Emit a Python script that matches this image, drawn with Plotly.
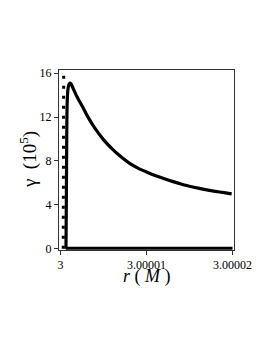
import plotly.graph_objects as go

# Solid curve (gamma in units of 1e5) vs r (M)
r_solid = [3.00000064, 3.00000068, 3.00000072, 3.00000077, 3.00000085, 3.00000095,
           3.00000105, 3.00000116, 3.00000125, 3.0000014, 3.0000016, 3.0000018,
           3.0000020, 3.0000026, 3.0000032, 3.0000040, 3.0000050, 3.0000060,
           3.0000070, 3.0000080, 3.0000090, 3.0000100, 3.0000110, 3.0000120,
           3.0000130, 3.0000140, 3.0000150, 3.0000160, 3.0000170, 3.0000180,
           3.0000190, 3.0000199]
g_solid = [0.0, 4.0, 9.0, 13.0, 14.4, 14.9,
           15.08, 15.1, 15.0, 14.75, 14.4, 14.05,
           13.75, 12.9, 12.0, 11.0, 9.95, 9.1,
           8.4, 7.8, 7.35, 7.0, 6.68, 6.4,
           6.14, 5.9, 5.7, 5.52, 5.36, 5.23,
           5.11, 5.0]

# Near-zero branch
r_zero = [3.00000062, 3.0000200]
g_zero = [0.05, 0.05]

# Dotted near-vertical branch
r_dot = [3.00000032, 3.00000038]
g_dot = [0.0, 16.6]

x_tickvals = [3.0, 3.00001, 3.00002]
x_ticktext = ["3", "3.00001", "3.00002"]
y_tickvals = [0, 4, 8, 12, 16]

fig = go.Figure()
fig.add_trace(go.Scatter(x=r_dot, y=g_dot, mode="lines",
                         line=dict(color="black", width=3, dash="3px,7px"),
                         showlegend=False))
fig.add_trace(go.Scatter(x=r_zero, y=g_zero, mode="lines",
                         line=dict(color="black", width=3),
                         showlegend=False))
fig.add_trace(go.Scatter(x=r_solid, y=g_solid, mode="lines",
                         line=dict(color="black", width=3.2, shape="spline", smoothing=0.8),
                         showlegend=False))

axis_common = dict(showgrid=False, zeroline=False, showline=True, mirror=True,
                   linecolor="#333", linewidth=1, ticks="outside", ticklen=4,
                   tickcolor="#333", tickfont=dict(family="Liberation Serif", size=12, color="black"))

fig.update_xaxes(range=[3 - 0.017e-5, 3.00002 + 0.017e-5], tickvals=x_tickvals,
                 ticktext=x_ticktext, **axis_common)
fig.update_yaxes(range=[-0.12, 16.3], tickvals=y_tickvals, **axis_common)

fig.add_annotation(text="<i>r</i> ( <i>M</i> )", xref="paper", yref="paper",
                   x=0.503, y=-0.145, xanchor="center", yanchor="middle", showarrow=False,
                   font=dict(family="Liberation Serif", size=18, color="black"))
fig.add_annotation(text="γ  (10<sup>5</sup>)", xref="paper", yref="paper",
                   x=-0.177, y=0.5, xanchor="center", yanchor="middle", showarrow=False,
                   textangle=-90,
                   font=dict(family="Liberation Serif", size=19, color="black"))

fig.update_layout(width=273, height=353, margin=dict(l=51, r=47, t=62, b=111),
                  plot_bgcolor="white", paper_bgcolor="white")

fig.write_html("out.html")
